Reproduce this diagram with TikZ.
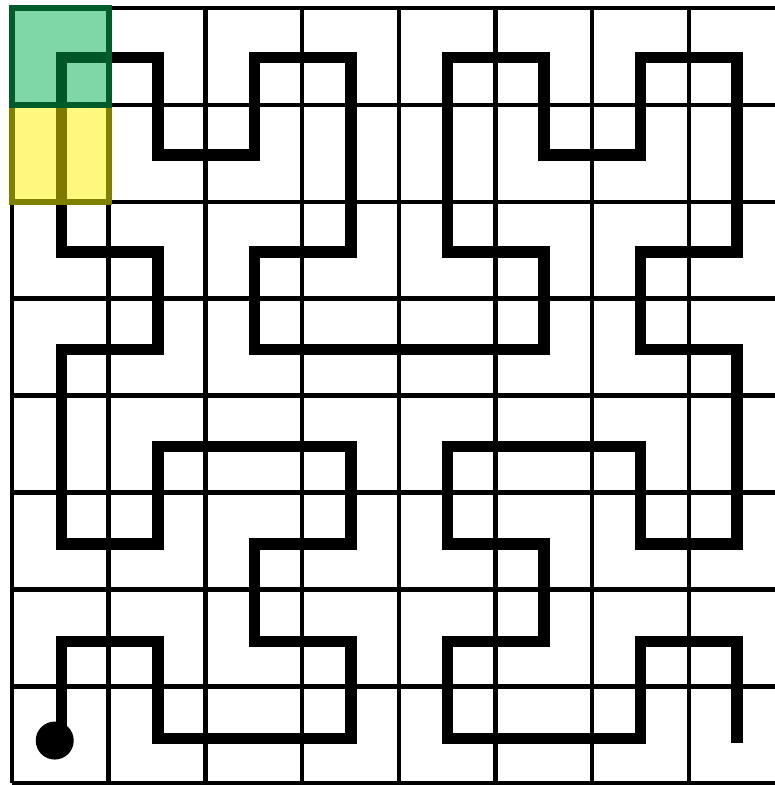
\documentclass[tikz,border=0pt]{standalone}
\definecolor{gfill}{RGB}{0,173,77}
\definecolor{gedge}{RGB}{0,92,42}
\definecolor{yedge}{RGB}{128,128,0}
\tikzset{
  gridline/.style={line width=4.5pt, black, line cap=square},
  curveline/.style={line width=11.5pt, black, line join=miter},
  greencell/.style={fill=gfill, fill opacity=0.5, draw=gedge, line width=6pt},
  yellowcell/.style={fill=yellow, fill opacity=0.5, draw=yedge, line width=6pt},
}
\begin{document}
\begin{tikzpicture}[x=1pt,y=-1pt]
\useasboundingbox (0,0) rectangle (775,785);
\clip (0,0) rectangle (775,785);
\begin{scope}[shift={(12,8)}, x=96.7pt, y=-96.9pt]
  % grid
  \foreach \i in {0,...,8} {
    \draw[gridline] (\i,0) -- (\i,8);
    \draw[gridline] (0,\i) -- (8,\i);
  }
\end{scope}
\begin{scope}[shift={(61.5,57.5)}, x=96.5pt, y=-97.3pt]
  % Hilbert curve through the cell centres
  \draw[curveline] (0,7) -- (0,6) -- (1,6) -- (1,7) -- (3,7) -- (3,6) -- (2,6) -- (2,5) -- (3,5) -- (3,4) -- (1,4) -- (1,5) -- (0,5) -- (0,3) -- (1,3) -- (1,2) -- (0,2) -- (0,0) -- (1,0) -- (1,1) -- (2,1) -- (2,0) -- (3,0) -- (3,2) -- (2,2) -- (2,3) -- (5,3) -- (5,2) -- (4,2) -- (4,0) -- (5,0) -- (5,1) -- (6,1) -- (6,0) -- (7,0) -- (7,2) -- (6,2) -- (6,3) -- (7,3) -- (7,5) -- (6,5) -- (6,4) -- (4,4) -- (4,5) -- (5,5) -- (5,6) -- (4,6) -- (4,7) -- (6,7) -- (6,6) -- (7,6) -- (7,7.05);
  % start dot
  \fill[black] (-0.07,7.02) circle[radius=19pt];
\end{scope}
\begin{scope}[shift={(12,8)}, x=96.7pt, y=-96.9pt]
  % highlighted cells
  \draw[yellowcell] (0,1) rectangle (1,2);
  \draw[greencell] (0,0) rectangle (1,1);
\end{scope}
\end{tikzpicture}
\end{document}
